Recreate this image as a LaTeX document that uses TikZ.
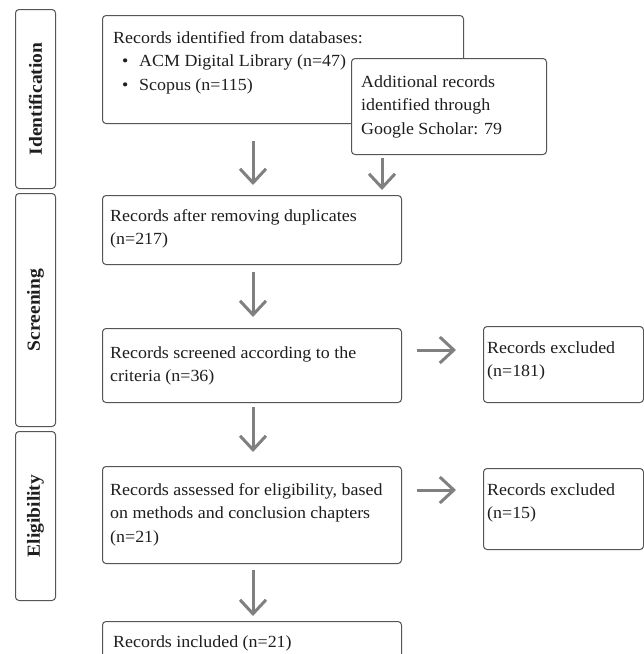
\documentclass[tikz,border=0pt]{standalone}
\usepackage{fontspec}
\setmainfont{Liberation Serif}[FakeStretch=1.055]
\usetikzlibrary{arrows.meta}
\definecolor{bordercol}{RGB}{85,85,85}
\definecolor{arrowcol}{RGB}{128,128,128}
\definecolor{textcol}{RGB}{30,30,30}
\begin{document}
\begin{tikzpicture}[x=1pt,y=-1pt,
  box/.style={draw=bordercol, line width=1pt, rounded corners=3.5pt, fill=white, anchor=north west, inner sep=0pt},
  bar/.style={box},
  txt/.style={anchor=base west, inner sep=0pt, text=textcol, font=\fontsize{17}{23.5}\selectfont},
  lbl/.style={rotate=90, inner sep=0pt, text=textcol, font=\fontsize{18.5}{20}\selectfont\bfseries},
  arr/.style={draw=arrowcol, line width=3pt, -{Straight Barb[length=14pt,width=26pt]}}]
\useasboundingbox (0,0) rectangle (644,654);
\clip (0,0) rectangle (644,654);
\fill[white] (0,0) rectangle (644,654);

% stage bars
\node[bar, minimum width=40pt, minimum height=179pt] (sid) at (15,9) {};
\node[lbl] (lid) at (sid.center) {Identification};
\node[bar, minimum width=40pt, minimum height=233pt] (ssc) at (15,193) {};
\node[lbl] (lsc) at (ssc.center) {Screening};
\node[bar, minimum width=40pt, minimum height=169pt] (sel) at (15,431) {};
\node[lbl] (lel) at (sel.center) {Eligibility};

% boxes
\node[box, minimum width=361pt, minimum height=108pt] (b1) at (102,15) {};
\node[txt] (t1) at (113,43) {\parbox[t]{340pt}{Records identified from databases:\\
  \hspace*{9pt}\makebox[17pt][l]{\textbullet}ACM Digital Library (n=47)\\
  \hspace*{9pt}\makebox[17pt][l]{\textbullet}Scopus (n=115)}};
\node[box, minimum width=195pt, minimum height=96pt] (b2) at (351,58) {};
\node[txt] (t2) at (361,87) {\parbox[t]{180pt}{Additional records\\ identified through\\ Google Scholar: 79}};

\node[box, minimum width=299pt, minimum height=69pt] (b3) at (102,195) {};
\node[txt] (t3) at (110,221) {\parbox[t]{290pt}{Records after removing duplicates\\ (n=217)}};

\node[box, minimum width=299pt, minimum height=74pt] (b4) at (102,328) {};
\node[txt] (t4) at (110,358) {\parbox[t]{290pt}{Records screened according to the\\ criteria (n=36)}};

\node[box, minimum width=160pt, minimum height=76pt] (e1) at (483,326) {};
\node[txt] (te1) at (487,353) {\parbox[t]{155pt}{Records excluded\\ (n=181)}};

\node[box, minimum width=299pt, minimum height=97pt] (b5) at (102,466) {};
\node[txt] (t5) at (110,495) {\parbox[t]{295pt}{Records assessed for eligibility, based\\ on methods and conclusion chapters\\ (n=21)}};

\node[box, minimum width=160pt, minimum height=81pt] (e2) at (483,468) {};
\node[txt] (te2) at (487,495) {\parbox[t]{155pt}{Records excluded\\ (n=15)}};

\node[box, minimum width=299pt, minimum height=70pt] (b6) at (102,621) {};
\node[txt] (t6) at (113,647) {\parbox[t]{285pt}{Records included (n=21)}};

% connectors
\coordinate (ax) at (253,0);
\coordinate (bx) at (382,0);
\coordinate (hy1) at (0,350);
\coordinate (hy2) at (0,490);
\draw[arr, shorten <=17pt, shorten >=10pt] (b1.south -| ax) -- (b3.north -| ax);
\draw[arr, shorten <=3pt, shorten >=5pt] (b2.south -| bx) -- (b3.north -| bx);
\draw[arr, shorten <=7pt, shorten >=11pt] (b3.south -| ax) -- (b4.north -| ax);
\draw[arr, shorten <=4pt, shorten >=14pt] (b4.south -| ax) -- (b5.north -| ax);
\draw[arr, shorten <=6pt, shorten >=5pt] (b5.south -| ax) -- (b6.north -| ax);
\draw[arr, shorten <=15pt, shorten >=27pt] (b4.east |- hy1) -- (e1.west |- hy1);
\draw[arr, shorten <=15pt, shorten >=27pt] (b5.east |- hy2) -- (e2.west |- hy2);
\end{tikzpicture}
\end{document}
